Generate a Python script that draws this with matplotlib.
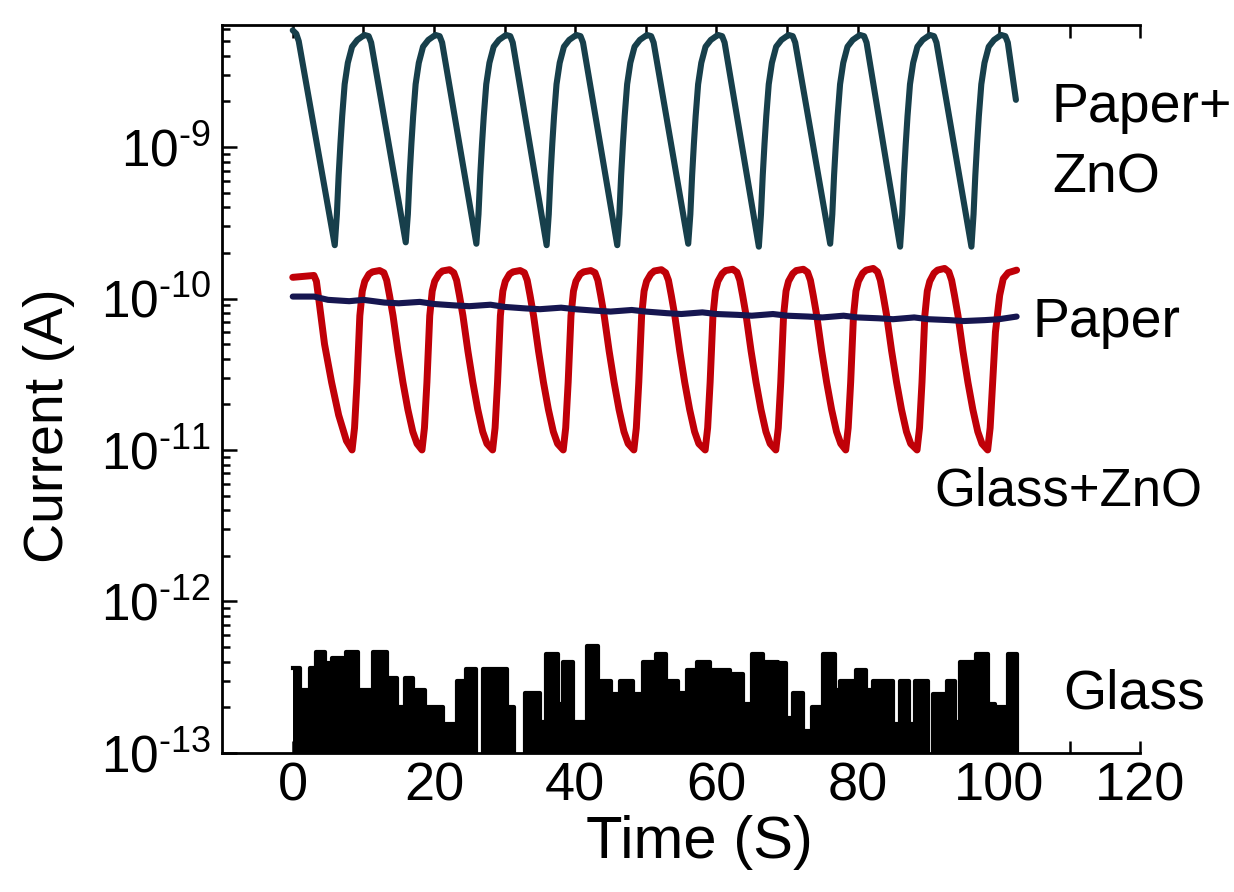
import matplotlib
matplotlib.use("Agg")
import matplotlib.pyplot as plt
from matplotlib.ticker import FixedLocator, NullFormatter

plt.rcParams['font.family'] = ['Liberation Sans', 'DejaVu Sans']
plt.rcParams['mathtext.fontset'] = 'custom'
plt.rcParams['mathtext.rm'] = 'Liberation Sans'

# Paper + ZnO photoresponse, time (s) and current (A); one row per on/off cycle
paper_zno_t = [0.0, 0.5, 0.85,
               5.95, 6.25, 6.5, 6.75, 7.0, 7.35, 7.8, 8.4, 9.15, 10.15, 10.75, 11.1,
               16.0, 16.3, 16.55, 16.8, 17.05, 17.4, 17.85, 18.45, 19.2, 20.2, 20.8, 21.15,
               26.0, 26.3, 26.55, 26.8, 27.05, 27.4, 27.85, 28.45, 29.2, 30.2, 30.8, 31.15,
               35.95, 36.25, 36.5, 36.75, 37.0, 37.35, 37.8, 38.4, 39.15, 40.15, 40.75, 41.1,
               45.95, 46.25, 46.5, 46.75, 47.0, 47.35, 47.8, 48.4, 49.15, 50.15, 50.75, 51.1,
               56.0, 56.3, 56.55, 56.8, 57.05, 57.4, 57.85, 58.45, 59.2, 60.2, 60.8, 61.15,
               66.0, 66.3, 66.55, 66.8, 67.05, 67.4, 67.85, 68.45, 69.2, 70.2, 70.8, 71.15,
               76.1, 76.4, 76.65, 76.9, 77.15, 77.5, 77.95, 78.55, 79.3, 80.3, 80.9, 81.25,
               86.0, 86.3, 86.55, 86.8, 87.05, 87.4, 87.85, 88.45, 89.2, 90.2, 90.8, 91.15,
               96.1, 96.4, 96.65, 96.9, 97.15, 97.5, 97.95, 98.55, 99.3, 100.3, 100.9, 101.25,
               102.4]
paper_zno_i = [5.9e-9, 5.6e-9, 5.0e-9,
               2.25e-10, 3.6e-10, 6.5e-10, 1.05e-9, 1.6e-9, 2.6e-9, 3.6e-9, 4.6e-9, 5.1e-9, 5.5e-9, 5.4e-9, 4.9e-9,
               2.35e-10, 3.6e-10, 6.5e-10, 1.05e-9, 1.6e-9, 2.6e-9, 3.6e-9, 4.6e-9, 5.1e-9, 5.5e-9, 5.4e-9, 4.9e-9,
               2.3e-10, 3.6e-10, 6.5e-10, 1.05e-9, 1.6e-9, 2.6e-9, 3.6e-9, 4.6e-9, 5.1e-9, 5.5e-9, 5.4e-9, 4.9e-9,
               2.25e-10, 3.6e-10, 6.5e-10, 1.05e-9, 1.6e-9, 2.6e-9, 3.6e-9, 4.6e-9, 5.1e-9, 5.5e-9, 5.4e-9, 4.9e-9,
               2.25e-10, 3.6e-10, 6.5e-10, 1.05e-9, 1.6e-9, 2.6e-9, 3.6e-9, 4.6e-9, 5.1e-9, 5.5e-9, 5.4e-9, 4.9e-9,
               2.3e-10, 3.6e-10, 6.5e-10, 1.05e-9, 1.6e-9, 2.6e-9, 3.6e-9, 4.6e-9, 5.1e-9, 5.5e-9, 5.4e-9, 4.9e-9,
               2.2e-10, 3.6e-10, 6.5e-10, 1.05e-9, 1.6e-9, 2.6e-9, 3.6e-9, 4.6e-9, 5.1e-9, 5.5e-9, 5.4e-9, 4.9e-9,
               2.3e-10, 3.6e-10, 6.5e-10, 1.05e-9, 1.6e-9, 2.6e-9, 3.6e-9, 4.6e-9, 5.1e-9, 5.5e-9, 5.4e-9, 4.9e-9,
               2.2e-10, 3.6e-10, 6.5e-10, 1.05e-9, 1.6e-9, 2.6e-9, 3.6e-9, 4.6e-9, 5.1e-9, 5.5e-9, 5.4e-9, 4.9e-9,
               2.2e-10, 3.6e-10, 6.5e-10, 1.05e-9, 1.6e-9, 2.6e-9, 3.6e-9, 4.6e-9, 5.1e-9, 5.5e-9, 5.4e-9, 4.9e-9,
               2.05e-9]

# Glass + ZnO photoresponse, time (s) and current (A)
glass_zno_t = [0.0, 3.0, 3.35, 3.8, 4.5, 5.5, 6.5, 7.6,
               8.4, 8.75, 9.1, 9.5, 9.85, 10.2, 10.8, 11.3, 12.3, 12.9, 13.3, 13.7, 14.2, 14.9, 15.6, 16.3, 17.0, 17.6,
               18.3, 18.65, 19.0, 19.4, 19.75, 20.1, 20.7, 21.2, 22.2, 22.8, 23.2, 23.6, 24.1, 24.8, 25.5, 26.2, 26.9, 27.5,
               28.3, 28.65, 29.0, 29.4, 29.75, 30.1, 30.7, 31.2, 32.2, 32.8, 33.2, 33.6, 34.1, 34.8, 35.5, 36.2, 36.9, 37.5,
               38.3, 38.65, 39.0, 39.4, 39.75, 40.1, 40.7, 41.2, 42.2, 42.8, 43.2, 43.6, 44.1, 44.8, 45.5, 46.2, 46.9, 47.5,
               48.3, 48.65, 49.0, 49.4, 49.75, 50.1, 50.7, 51.2, 52.2, 52.8, 53.2, 53.6, 54.1, 54.8, 55.5, 56.2, 56.9, 57.5,
               58.4, 58.75, 59.1, 59.5, 59.85, 60.2, 60.8, 61.3, 62.3, 62.9, 63.3, 63.7, 64.2, 64.9, 65.6, 66.3, 67.0, 67.6,
               68.4, 68.75, 69.1, 69.5, 69.85, 70.2, 70.8, 71.3, 72.3, 72.9, 73.3, 73.7, 74.2, 74.9, 75.6, 76.3, 77.0, 77.6,
               78.3, 78.65, 79.0, 79.4, 79.75, 80.1, 80.7, 81.2, 82.2, 82.8, 83.2, 83.6, 84.1, 84.8, 85.5, 86.2, 86.9, 87.5,
               88.4, 88.75, 89.1, 89.5, 89.85, 90.2, 90.8, 91.3, 92.3, 92.9, 93.3, 93.7, 94.2, 94.9, 95.6, 96.3, 97.0, 97.6,
               98.4, 98.75, 99.1, 99.5, 100.1, 100.6, 101.3, 102.5]
glass_zno_i = [1.38e-10, 1.42e-10, 1.3e-10, 9.0e-11, 5.0e-11, 2.8e-11, 1.7e-11, 1.15e-11,
               1.0e-11, 1.4e-11, 2.8e-11, 7.7e-11, 1.12e-10, 1.3e-10, 1.45e-10, 1.5e-10, 1.53e-10, 1.48e-10, 1.32e-10, 1.05e-10, 7.7e-11, 4.5e-11, 2.8e-11, 1.85e-11, 1.32e-11, 1.1e-11,
               1.0e-11, 1.4e-11, 2.8e-11, 7.7e-11, 1.12e-10, 1.3e-10, 1.45e-10, 1.52e-10, 1.55e-10, 1.48e-10, 1.32e-10, 1.05e-10, 7.7e-11, 4.5e-11, 2.8e-11, 1.85e-11, 1.32e-11, 1.1e-11,
               1.0e-11, 1.4e-11, 2.8e-11, 7.7e-11, 1.12e-10, 1.3e-10, 1.45e-10, 1.5e-10, 1.53e-10, 1.48e-10, 1.32e-10, 1.05e-10, 7.7e-11, 4.5e-11, 2.8e-11, 1.85e-11, 1.32e-11, 1.1e-11,
               1.0e-11, 1.4e-11, 2.8e-11, 7.7e-11, 1.12e-10, 1.3e-10, 1.45e-10, 1.5e-10, 1.53e-10, 1.48e-10, 1.32e-10, 1.05e-10, 7.7e-11, 4.5e-11, 2.8e-11, 1.85e-11, 1.32e-11, 1.1e-11,
               1.0e-11, 1.4e-11, 2.8e-11, 7.7e-11, 1.12e-10, 1.3e-10, 1.45e-10, 1.52e-10, 1.55e-10, 1.48e-10, 1.32e-10, 1.05e-10, 7.7e-11, 4.5e-11, 2.8e-11, 1.85e-11, 1.32e-11, 1.1e-11,
               1.0e-11, 1.4e-11, 2.8e-11, 7.7e-11, 1.12e-10, 1.3e-10, 1.46e-10, 1.53e-10, 1.56e-10, 1.49e-10, 1.32e-10, 1.05e-10, 7.7e-11, 4.5e-11, 2.8e-11, 1.85e-11, 1.32e-11, 1.1e-11,
               1.0e-11, 1.4e-11, 2.8e-11, 7.7e-11, 1.12e-10, 1.3e-10, 1.46e-10, 1.53e-10, 1.56e-10, 1.49e-10, 1.32e-10, 1.05e-10, 7.7e-11, 4.5e-11, 2.8e-11, 1.85e-11, 1.32e-11, 1.1e-11,
               1.0e-11, 1.4e-11, 2.8e-11, 7.7e-11, 1.12e-10, 1.3e-10, 1.47e-10, 1.54e-10, 1.58e-10, 1.5e-10, 1.32e-10, 1.05e-10, 7.7e-11, 4.5e-11, 2.8e-11, 1.85e-11, 1.32e-11, 1.1e-11,
               1.0e-11, 1.4e-11, 2.8e-11, 7.7e-11, 1.12e-10, 1.3e-10, 1.47e-10, 1.54e-10, 1.58e-10, 1.5e-10, 1.32e-10, 1.05e-10, 7.7e-11, 4.5e-11, 2.8e-11, 1.85e-11, 1.32e-11, 1.1e-11,
               1.0e-11, 1.4e-11, 2.8e-11, 6.0e-11, 1.05e-10, 1.35e-10, 1.48e-10, 1.54e-10]

# Bare paper, time (s) and current (A)
paper_t = [0, 3, 5, 8, 10, 13, 15, 18, 20, 23, 25, 28, 30, 33, 35, 38, 40, 43,
           45, 48, 50, 53, 55, 58, 60, 63, 65, 68, 70, 73, 75, 78, 80, 83, 85,
           88, 90, 93, 95, 98, 100, 102.5]
paper_i = [1.03e-10, 1.03e-10, 9.8e-11, 9.6e-11, 9.8e-11, 9.4e-11, 9.3e-11,
           9.5e-11, 9.2e-11, 9.0e-11, 8.9e-11, 9.1e-11, 8.8e-11, 8.6e-11,
           8.5e-11, 8.7e-11, 8.5e-11, 8.3e-11, 8.2e-11, 8.4e-11, 8.2e-11,
           8.0e-11, 7.9e-11, 8.1e-11, 7.9e-11, 7.8e-11, 7.7e-11, 7.9e-11,
           7.7e-11, 7.6e-11, 7.5e-11, 7.7e-11, 7.5e-11, 7.4e-11, 7.3e-11,
           7.5e-11, 7.3e-11, 7.2e-11, 7.1e-11, 7.2e-11, 7.3e-11, 7.6e-11]

# Bare glass noise floor, step start times (s) and levels (A)
glass_t = [0.0, 1.0, 2.4, 3.35, 4.5, 5.5, 7.1, 7.6, 9.25, 11.4, 13.3, 14.7,
           15.9, 17.0, 17.45, 18.7, 21.3, 23.2, 24.6, 26.0, 27.0, 30.3, 31.4,
           32.9, 35.0, 35.9, 37.6, 38.3, 39.7, 41.6, 43.2, 43.7, 45.1, 46.3,
           48.2, 49.6, 51.0, 51.5, 52.9, 54.6, 55.8, 57.2, 59.1, 61.9, 63.8,
           65.0, 66.6, 68.7, 69.9, 70.9, 72.3, 73.5, 75.1, 76.8, 77.5, 79.8,
           81.2, 82.2, 85.0, 86.0, 87.2, 88.1, 89.9, 90.6, 92.6, 93.8, 94.5,
           96.8, 98.5, 99.4, 101.3, 102.5]
glass_i = [3.66e-13, 2.6e-13, 3.66e-13, 4.6e-13, 3.9e-13, 4.2e-13, 3.3e-13,
           4.6e-13, 2.6e-13, 4.6e-13, 3.1e-13, 2.0e-13, 3.1e-13, 0.8e-13,
           2.6e-13, 2.0e-13, 1.56e-13, 3.0e-13, 3.6e-13, 0.8e-13, 3.6e-13,
           2.0e-13, 0.8e-13, 2.5e-13, 1.6e-13, 4.5e-13, 2.1e-13, 3.95e-13,
           1.6e-13, 5.1e-13, 1.6e-13, 3.0e-13, 2.46e-13, 3.0e-13, 2.46e-13,
           3.95e-13, 3.3e-13, 4.5e-13, 3.0e-13, 2.5e-13, 3.5e-13, 3.95e-13,
           3.5e-13, 3.3e-13, 2.1e-13, 4.5e-13, 4.0e-13, 3.9e-13, 1.7e-13,
           2.5e-13, 1.4e-13, 2.0e-13, 4.5e-13, 2.6e-13, 3.0e-13, 3.5e-13,
           2.6e-13, 3.0e-13, 1.56e-13, 3.0e-13, 1.56e-13, 3.0e-13, 0.8e-13,
           2.46e-13, 3.0e-13, 1.6e-13, 4.0e-13, 4.5e-13, 2.1e-13, 2.0e-13,
           4.5e-13, 0.5e-13]

decades = [1e-13, 1e-12, 1e-11, 1e-10, 1e-9]
decade_labels = ['10^{\u2010 13}', '10^{\u2010 12}', '10^{\u2010 11}',
                 '10^{\u2010 10}', '10^{\u2010 9}']

fig = plt.figure(figsize=(12.34, 8.92), dpi=100)
ax = fig.add_axes([0.18, 0.156, 0.744, 0.816])

ax.fill_between(glass_t, 1e-14, glass_i, step='post', color='black', lw=0)
ax.step(glass_t, glass_i, where='post', color='black', lw=3,
        solid_joinstyle='round')
ax.plot(paper_zno_t, paper_zno_i, color='#173f4b', lw=4.4,
        solid_joinstyle='round', solid_capstyle='round')
ax.plot(glass_zno_t, glass_zno_i, color='#c00008', lw=5.0,
        solid_joinstyle='round', solid_capstyle='round')
ax.plot(paper_t, paper_i, color='#161650', lw=4.4,
        solid_joinstyle='round', solid_capstyle='round')

ax.set_yscale('log')
ax.set_xlim(-10, 120)
ax.set_ylim(1e-13, 6.4e-9)

ax.set_xticks([0, 20, 40, 60, 80, 100, 120])
ax.xaxis.set_minor_locator(FixedLocator([10, 30, 50, 70, 90, 110]))
ax.set_xticklabels(['0', '20', '40', '60', '80', '100', '120'], fontsize=39)

ax.set_yticks(decades)
ax.set_yticklabels(['$\\mathregular{' + s + '}$' for s in decade_labels], fontsize=37)
ax.yaxis.set_minor_locator(FixedLocator([m * d for d in decades for m in range(2, 10)]))
ax.yaxis.set_minor_formatter(NullFormatter())

ax.tick_params(axis='x', which='both', direction='in', top=True, bottom=True,
               width=1.8, length=9, pad=6)
ax.tick_params(axis='y', which='both', direction='in', left=True, right=False,
               width=1.8, pad=8)
ax.tick_params(axis='y', which='major', length=11)
ax.tick_params(axis='y', which='minor', length=6)

ax.spines['right'].set_visible(False)
for s in ['left', 'top', 'bottom']:
    ax.spines[s].set_linewidth(2)

ax.set_xlabel('Time (S)', fontsize=43)
ax.xaxis.set_label_coords(0.52, -0.085)
ax.set_ylabel('Current (A)', fontsize=40)
ax.yaxis.set_label_coords(-0.16, 0.45)

ax.text(107.5, 1.47e-9, 'Paper+', fontsize=40, va='baseline', clip_on=False)
ax.text(107.5, 5.0e-10, 'ZnO', fontsize=40, va='baseline', clip_on=False)
ax.text(104.8, 5.6e-11, 'Paper', fontsize=40, va='baseline', clip_on=False)
ax.text(90.9, 4.3e-12, 'Glass+ZnO', fontsize=38, va='baseline', clip_on=False)
ax.text(109.1, 1.95e-13, 'Glass', fontsize=40, va='baseline', clip_on=False)

fig.savefig('out.png', dpi=100)
